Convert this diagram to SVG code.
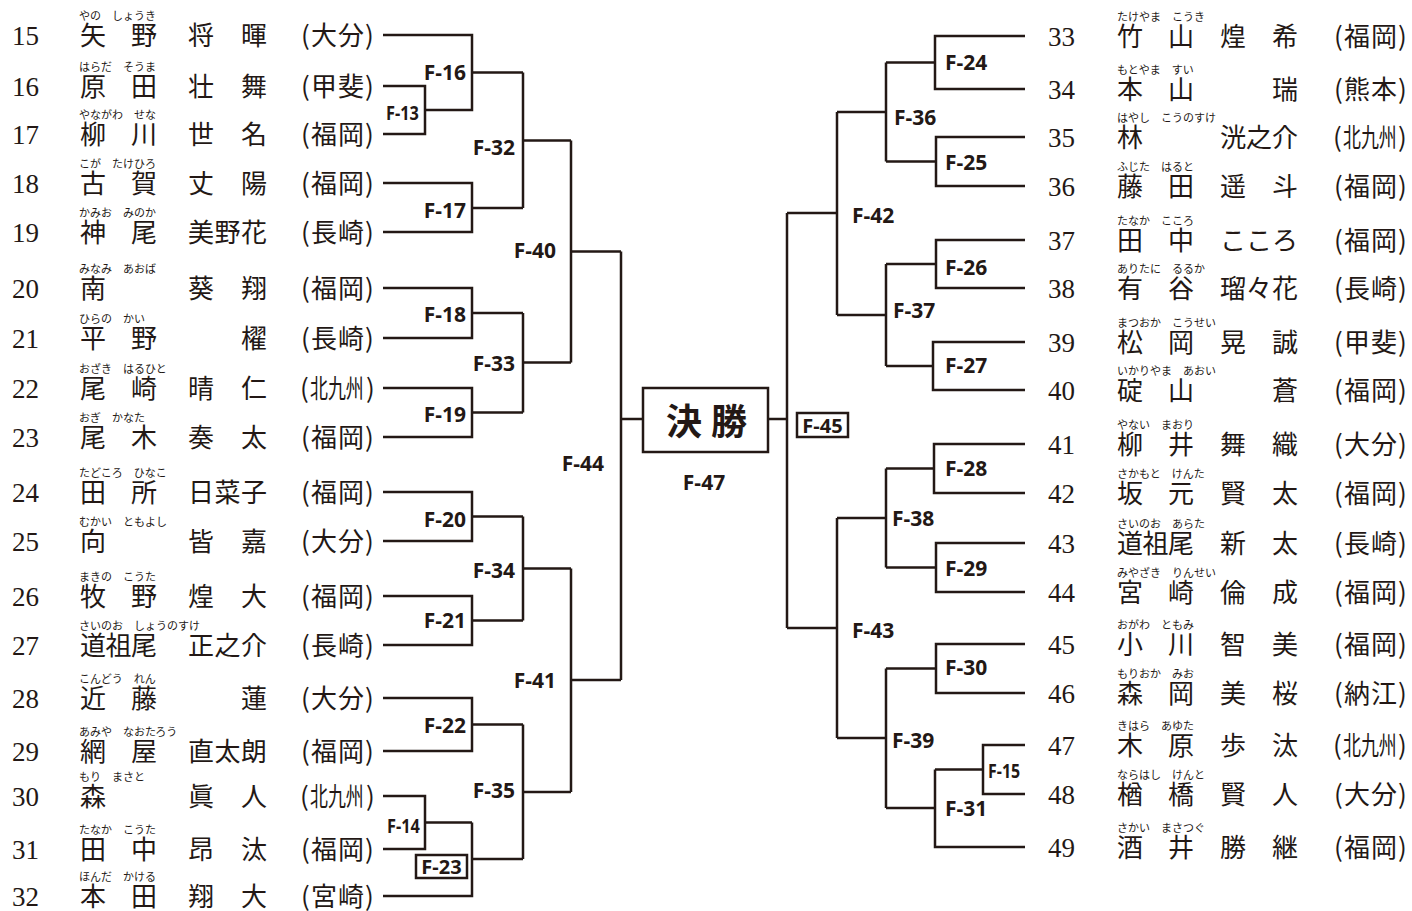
<svg xmlns="http://www.w3.org/2000/svg" width="1412" height="911" viewBox="0 0 1412 911">
<style>
.ln{fill:none;stroke:#231815;stroke-width:2.5;stroke-linejoin:miter}
.bx{fill:#fff;stroke:#231815;stroke-width:2.5}
.num{font-family:"Liberation Serif",serif;font-size:27px;fill:#231815}
.nm{font-family:"Noto Sans CJK JP",sans-serif;font-size:26px;fill:#231815}
.fu{font-family:"Noto Sans CJK JP",sans-serif;font-size:11px;fill:#231815}
.lb{font-family:"Open Sans",sans-serif;font-weight:700;font-size:21px;fill:#231815}
.ls{font-family:"Open Sans",sans-serif;font-weight:700;font-size:19px;fill:#231815}
.lbe{text-anchor:end}
.mid{text-anchor:middle}
.fin{font-family:"Noto Sans CJK JP",sans-serif;font-weight:700;font-size:36px;fill:#231815}
</style>
<rect width="1412" height="911" fill="#fff"/>
<g id="connectors" class="ln">
<path d="M383 35H472V110H425M383 86H425V134H383M472 72.5H523"/>
<path d="M383 183H472V232H383M472 208H523"/>
<path d="M523 72.5V208M523 140.5H571"/>
<path d="M383 288H472V338H383M472 313H523"/>
<path d="M383 388H472V437H383M472 412.5H523"/>
<path d="M523 313V412.5M523 362.5H571"/>
<path d="M571 140.5V362.5M571 251.5H621"/>
<path d="M383 492H472V541H383M472 516.5H523"/>
<path d="M383 596H472V645H383M472 620.5H523"/>
<path d="M523 516.5V620.5M523 568.5H571"/>
<path d="M383 698H472V751H383M472 724.5H523"/>
<path d="M383 796H425V849H383M425 822.5H472"/>
<path d="M472 822.5V896H383M472 859H523"/>
<path d="M523 724.5V859M523 792H571"/>
<path d="M571 568.5V792M571 680H621"/>
<path d="M621 251.5V680M621 419H643"/>
<path d="M1025 36H935V89H1025M935 62.5H886"/>
<path d="M1025 137H936V186H1025M936 161.5H886"/>
<path d="M886 62.5V161.5M886 112H837"/>
<path d="M1025 240H936V288H1025M936 264H886"/>
<path d="M1025 342H933V390H1025M933 366H886"/>
<path d="M886 264V366M886 315H837"/>
<path d="M837 112V315M837 213H787"/>
<path d="M1025 444H934V493H1025M934 468.5H886"/>
<path d="M1025 543H936V592H1025M936 567.5H886"/>
<path d="M886 468.5V567.5M886 518H837"/>
<path d="M1025 644H936V693H1025M936 668.5H886"/>
<path d="M1025 745H983V794H1025M983 769.5H935"/>
<path d="M935 769.5V847H1025M935 808H886"/>
<path d="M886 668.5V808M886 738H837"/>
<path d="M837 518V738M837 628H787"/>
<path d="M787 213V628M787 419H768"/>
</g>
<g id="final">
<rect class="bx" x="643" y="388" width="125" height="64"/>
<text class="fin" x="666 711" y="435">決勝</text>
<text class="lb mid" x="704" y="490">F-47</text>
</g>
<g id="labels">
<text class="lb lbe" x="466" y="80">F-16</text>
<text class="ls" transform="translate(386 120) scale(0.86 1)">F-13</text>
<text class="lb lbe" x="515" y="155">F-32</text>
<text class="lb lbe" x="466" y="218">F-17</text>
<text class="lb lbe" x="556" y="258">F-40</text>
<text class="lb lbe" x="466" y="322">F-18</text>
<text class="lb lbe" x="515" y="371">F-33</text>
<text class="lb lbe" x="466" y="422">F-19</text>
<text class="lb lbe" x="604" y="471">F-44</text>
<text class="lb lbe" x="466" y="527">F-20</text>
<text class="lb lbe" x="515" y="578">F-34</text>
<text class="lb lbe" x="466" y="628">F-21</text>
<text class="lb lbe" x="556" y="688">F-41</text>
<text class="lb lbe" x="466" y="733">F-22</text>
<text class="lb lbe" x="515" y="798">F-35</text>
<text class="ls" transform="translate(387 833) scale(0.86 1)">F-14</text>
<g id="F-23"><rect class="bx" x="416" y="855" width="51" height="23"/><text class="lb mid" x="441.5" y="874" style="font-size:20px">F-23</text></g>
<g id="F-45"><rect class="bx" x="797" y="413" width="51" height="24"/><text class="lb mid" x="822.5" y="433" style="font-size:20px">F-45</text></g>
<text class="lb" x="945" y="70">F-24</text>
<text class="lb" x="894" y="125">F-36</text>
<text class="lb" x="945" y="170">F-25</text>
<text class="lb" x="852" y="223">F-42</text>
<text class="lb" x="945" y="275">F-26</text>
<text class="lb" x="893" y="318">F-37</text>
<text class="lb" x="945" y="373">F-27</text>
<text class="lb" x="945" y="476">F-28</text>
<text class="lb" x="892" y="526">F-38</text>
<text class="lb" x="945" y="576">F-29</text>
<text class="lb" x="852" y="638">F-43</text>
<text class="lb" x="945" y="675">F-30</text>
<text class="lb" x="892" y="748">F-39</text>
<text class="ls" transform="translate(988 778) scale(0.84 1)">F-15</text>
<text class="lb" x="945" y="816">F-31</text>
</g>
<g id="p15"><text class="num" x="12" y="45">15</text><text class="fu" x="79" y="20">やの　しょうき</text><text class="nm" x="80 131 188 241" y="45">矢野将暉</text><text class="nm" x="301 311 338 365" y="45">(大分)</text></g>
<g id="p16"><text class="num" x="12" y="96">16</text><text class="fu" x="79" y="71">はらだ　そうま</text><text class="nm" x="80 131 188 241" y="96">原田壮舞</text><text class="nm" x="301 311 338 365" y="96">(甲斐)</text></g>
<g id="p17"><text class="num" x="12" y="144">17</text><text class="fu" x="79" y="119">やながわ　せな</text><text class="nm" x="80 131 188 241" y="144">柳川世名</text><text class="nm" x="301 311 338 365" y="144">(福岡)</text></g>
<g id="p18"><text class="num" x="12" y="193">18</text><text class="fu" x="79" y="168">こが　たけひろ</text><text class="nm" x="80 131 188 241" y="193">古賀丈陽</text><text class="nm" x="301 311 338 365" y="193">(福岡)</text></g>
<g id="p19"><text class="num" x="12" y="242">19</text><text class="fu" x="79" y="217">かみお　みのか</text><text class="nm" x="80 131 188 214.5 241" y="242">神尾美野花</text><text class="nm" x="301 311 338 365" y="242">(長崎)</text></g>
<g id="p20"><text class="num" x="12" y="298">20</text><text class="fu" x="79" y="273">みなみ　あおば</text><text class="nm" x="80 188 241" y="298">南葵翔</text><text class="nm" x="301 311 338 365" y="298">(福岡)</text></g>
<g id="p21"><text class="num" x="12" y="348">21</text><text class="fu" x="79" y="323">ひらの　かい</text><text class="nm" x="80 131 241" y="348">平野櫂</text><text class="nm" x="301 311 338 365" y="348">(長崎)</text></g>
<g id="p22"><text class="num" x="12" y="398">22</text><text class="fu" x="79" y="373">おざき　はるひと</text><text class="nm" x="80 131 188 241" y="398">尾崎晴仁</text><text class="nm" x="300" y="398">(</text><text class="nm" transform="translate(310 398) scale(0.69 1)">北九州</text><text class="nm" x="366" y="398">)</text></g>
<g id="p23"><text class="num" x="12" y="447">23</text><text class="fu" x="79" y="422">おぎ　かなた</text><text class="nm" x="80 131 188 241" y="447">尾木奏太</text><text class="nm" x="301 311 338 365" y="447">(福岡)</text></g>
<g id="p24"><text class="num" x="12" y="502">24</text><text class="fu" x="79" y="477">たどころ　ひなこ</text><text class="nm" x="80 131 188 214.5 241" y="502">田所日菜子</text><text class="nm" x="301 311 338 365" y="502">(福岡)</text></g>
<g id="p25"><text class="num" x="12" y="551">25</text><text class="fu" x="79" y="526">むかい　ともよし</text><text class="nm" x="80 188 241" y="551">向皆嘉</text><text class="nm" x="301 311 338 365" y="551">(大分)</text></g>
<g id="p26"><text class="num" x="12" y="606">26</text><text class="fu" x="79" y="581">まきの　こうた</text><text class="nm" x="80 131 188 241" y="606">牧野煌大</text><text class="nm" x="301 311 338 365" y="606">(福岡)</text></g>
<g id="p27"><text class="num" x="12" y="655">27</text><text class="fu" x="79" y="630">さいのお　しょうのすけ</text><text class="nm" x="80 105.5 131 188 214.5 241" y="655">道祖尾正之介</text><text class="nm" x="301 311 338 365" y="655">(長崎)</text></g>
<g id="p28"><text class="num" x="12" y="708">28</text><text class="fu" x="79" y="683">こんどう　れん</text><text class="nm" x="80 131 241" y="708">近藤蓮</text><text class="nm" x="301 311 338 365" y="708">(大分)</text></g>
<g id="p29"><text class="num" x="12" y="761">29</text><text class="fu" x="79" y="736">あみや　なおたろう</text><text class="nm" x="80 131 188 214.5 241" y="761">網屋直太朗</text><text class="nm" x="301 311 338 365" y="761">(福岡)</text></g>
<g id="p30"><text class="num" x="12" y="806">30</text><text class="fu" x="79" y="781">もり　まさと</text><text class="nm" x="80 188 241" y="806">森眞人</text><text class="nm" x="300" y="806">(</text><text class="nm" transform="translate(310 806) scale(0.69 1)">北九州</text><text class="nm" x="366" y="806">)</text></g>
<g id="p31"><text class="num" x="12" y="859">31</text><text class="fu" x="79" y="834">たなか　こうた</text><text class="nm" x="80 131 188 241" y="859">田中昂汰</text><text class="nm" x="301 311 338 365" y="859">(福岡)</text></g>
<g id="p32"><text class="num" x="12" y="906">32</text><text class="fu" x="79" y="881">ほんだ　かける</text><text class="nm" x="80 131 188 241" y="906">本田翔大</text><text class="nm" x="301 311 338 365" y="906">(宮崎)</text></g>
<g id="p33"><text class="num" x="1048" y="46">33</text><text class="fu" x="1117" y="21">たけやま　こうき</text><text class="nm" x="1117 1168 1220 1272" y="46">竹山煌希</text><text class="nm" x="1334 1344 1371 1398" y="46">(福岡)</text></g>
<g id="p34"><text class="num" x="1048" y="99">34</text><text class="fu" x="1117" y="74">もとやま　すい</text><text class="nm" x="1117 1168 1272" y="99">本山瑞</text><text class="nm" x="1334 1344 1371 1398" y="99">(熊本)</text></g>
<g id="p35"><text class="num" x="1048" y="147">35</text><text class="fu" x="1117" y="122">はやし　こうのすけ</text><text class="nm" x="1117 1220 1246 1272" y="147">林洸之介</text><text class="nm" x="1333" y="147">(</text><text class="nm" transform="translate(1343 147) scale(0.69 1)">北九州</text><text class="nm" x="1398" y="147">)</text></g>
<g id="p36"><text class="num" x="1048" y="196">36</text><text class="fu" x="1117" y="171">ふじた　はると</text><text class="nm" x="1117 1168 1220 1272" y="196">藤田遥斗</text><text class="nm" x="1334 1344 1371 1398" y="196">(福岡)</text></g>
<g id="p37"><text class="num" x="1048" y="250">37</text><text class="fu" x="1117" y="225">たなか　こころ</text><text class="nm" x="1117 1168 1220 1246 1272" y="250">田中こころ</text><text class="nm" x="1334 1344 1371 1398" y="250">(福岡)</text></g>
<g id="p38"><text class="num" x="1048" y="298">38</text><text class="fu" x="1117" y="273">ありたに　るるか</text><text class="nm" x="1117 1168 1220 1246 1272" y="298">有谷瑠々花</text><text class="nm" x="1334 1344 1371 1398" y="298">(長崎)</text></g>
<g id="p39"><text class="num" x="1048" y="352">39</text><text class="fu" x="1117" y="327">まつおか　こうせい</text><text class="nm" x="1117 1168 1220 1272" y="352">松岡晃誠</text><text class="nm" x="1334 1344 1371 1398" y="352">(甲斐)</text></g>
<g id="p40"><text class="num" x="1048" y="400">40</text><text class="fu" x="1117" y="375">いかりやま　あおい</text><text class="nm" x="1117 1168 1272" y="400">碇山蒼</text><text class="nm" x="1334 1344 1371 1398" y="400">(福岡)</text></g>
<g id="p41"><text class="num" x="1048" y="454">41</text><text class="fu" x="1117" y="429">やない　まおり</text><text class="nm" x="1117 1168 1220 1272" y="454">柳井舞織</text><text class="nm" x="1334 1344 1371 1398" y="454">(大分)</text></g>
<g id="p42"><text class="num" x="1048" y="503">42</text><text class="fu" x="1117" y="478">さかもと　けんた</text><text class="nm" x="1117 1168 1220 1272" y="503">坂元賢太</text><text class="nm" x="1334 1344 1371 1398" y="503">(福岡)</text></g>
<g id="p43"><text class="num" x="1048" y="553">43</text><text class="fu" x="1117" y="528">さいのお　あらた</text><text class="nm" x="1117 1142.5 1168 1220 1272" y="553">道祖尾新太</text><text class="nm" x="1334 1344 1371 1398" y="553">(長崎)</text></g>
<g id="p44"><text class="num" x="1048" y="602">44</text><text class="fu" x="1117" y="577">みやざき　りんせい</text><text class="nm" x="1117 1168 1220 1272" y="602">宮崎倫成</text><text class="nm" x="1334 1344 1371 1398" y="602">(福岡)</text></g>
<g id="p45"><text class="num" x="1048" y="654">45</text><text class="fu" x="1117" y="629">おがわ　ともみ</text><text class="nm" x="1117 1168 1220 1272" y="654">小川智美</text><text class="nm" x="1334 1344 1371 1398" y="654">(福岡)</text></g>
<g id="p46"><text class="num" x="1048" y="703">46</text><text class="fu" x="1117" y="678">もりおか　みお</text><text class="nm" x="1117 1168 1220 1272" y="703">森岡美桜</text><text class="nm" x="1334 1344 1371 1398" y="703">(納江)</text></g>
<g id="p47"><text class="num" x="1048" y="755">47</text><text class="fu" x="1117" y="730">きはら　あゆた</text><text class="nm" x="1117 1168 1220 1272" y="755">木原歩汰</text><text class="nm" x="1333" y="755">(</text><text class="nm" transform="translate(1343 755) scale(0.69 1)">北九州</text><text class="nm" x="1398" y="755">)</text></g>
<g id="p48"><text class="num" x="1048" y="804">48</text><text class="fu" x="1117" y="779">ならはし　けんと</text><text class="nm" x="1117 1168 1220 1272" y="804">楢橋賢人</text><text class="nm" x="1334 1344 1371 1398" y="804">(大分)</text></g>
<g id="p49"><text class="num" x="1048" y="857">49</text><text class="fu" x="1117" y="832">さかい　まさつぐ</text><text class="nm" x="1117 1168 1220 1272" y="857">酒井勝継</text><text class="nm" x="1334 1344 1371 1398" y="857">(福岡)</text></g>
</svg>
